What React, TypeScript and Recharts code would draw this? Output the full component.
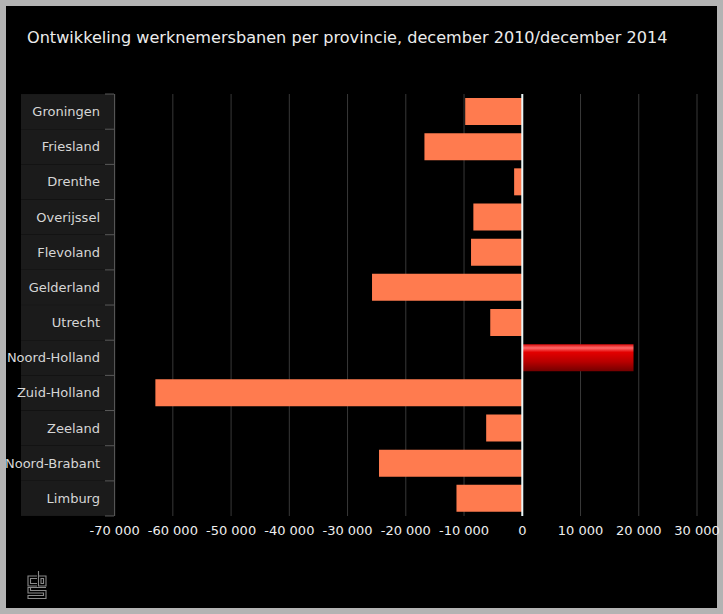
import React from 'react';
import { BarChart, Bar, Cell, XAxis, YAxis, CartesianGrid, ReferenceLine } from 'recharts';

const provinces = [
  'Groningen',
  'Friesland',
  'Drenthe',
  'Overijssel',
  'Flevoland',
  'Gelderland',
  'Utrecht',
  'Noord-Holland',
  'Zuid-Holland',
  'Zeeland',
  'Noord-Brabant',
  'Limburg',
];

const banenChange = [-9800, -16800, -1400, -8400, -8800, -25800, -5500, 19100, -63000, -6200, -24600, -11300];

const xTicks = [-70000, -60000, -50000, -40000, -30000, -20000, -10000, 0, 10000, 20000, 30000];

const highlighted = 'Noord-Holland';

const chartData = provinces.map((name, i) => ({ name, value: banenChange[i] }));

const W = 723;
const H = 614;
const PLOT_TOP = 94;
const PLOT_BOTTOM = 515;
const BAND = (PLOT_BOTTOM - PLOT_TOP) / provinces.length;
const FONT = '"DejaVu Sans", Verdana, sans-serif';

// thousands with a space, like the CBS charts do
const fmt = (v: number) => {
  const s = Math.abs(v).toString().replace(/\B(?=(\d{3})+(?!\d))/g, ' ');
  return v < 0 ? '-' + s : s;
};

const CategoryTick = (props: any) => {
  const { y, payload, index } = props;
  const top = y - BAND / 2;
  return (
    <g>
      <rect x={21} y={top} width={93} height={BAND} fill="#1b1b1b" />
      <line x1={105} x2={114} y1={top} y2={top} stroke="#5a5a5a" />
      {index === provinces.length - 1 && (
        <line x1={105} x2={114} y1={top + BAND} y2={top + BAND} stroke="#5a5a5a" />
      )}
      <text
        x={100}
        y={y}
        dy="0.35em"
        textAnchor="end"
        fill="#d6d6d6"
        fontSize={13}
        fontWeight="normal"
        fontFamily={FONT}
      >
        {payload.value}
      </text>
    </g>
  );
};

// rough outline of the cbs mark in the corner
const CbsLogo = () => (
  <svg width={22} height={32} style={{ position: 'absolute', left: 20, top: 563 }}>
    <g fill="none" stroke="#8a8a8a" strokeWidth={1.1}>
      <path d="M11 7 H2 V17 H11" />
      <path d="M11 9.5 H4.5 V14.5 H11" />
      <path d="M12.5 2 V17 H20 V7 H12.5" />
      <path d="M15 9.5 H17.5 V14.5 H15 Z" />
      <path d="M20 18.5 H2 V24 H17.5 V26.5 H2 V29.5 H20 V21.5 H4.5 V19" />
    </g>
  </svg>
);

export default function App() {
  return (
    <div
      style={{
        position: 'fixed',
        left: 0,
        top: 0,
        width: W,
        height: H,
        boxSizing: 'border-box',
        border: '6px solid #b3b3b3',
        background: '#000',
        fontFamily: FONT,
      }}
    >
      <div
        style={{
          position: 'absolute',
          left: 21,
          top: 22,
          color: '#ececec',
          fontSize: 16.1,
          whiteSpace: 'nowrap',
        }}
      >
        Ontwikkeling werknemersbanen per provincie, december 2010/december 2014
      </div>
      <div style={{ position: 'absolute', left: -6, top: -6 }}>
        <BarChart
          width={W}
          height={H}
          layout="vertical"
          data={chartData}
          margin={{ top: PLOT_TOP, right: 26, bottom: 68, left: 0 }}
        >
          <defs>
            <linearGradient id="nhGrad" x1="0" y1="0" x2="0" y2="1">
              <stop offset="0%" stopColor="#d80a0a" />
              <stop offset="14%" stopColor="#ff6a6a" />
              <stop offset="30%" stopColor="#e30000" />
              <stop offset="65%" stopColor="#b80000" />
              <stop offset="100%" stopColor="#740000" />
            </linearGradient>
          </defs>
          <CartesianGrid horizontal={false} stroke="#383838" />
          <XAxis
            type="number"
            domain={[-70000, 30000]}
            ticks={xTicks}
            tickFormatter={fmt}
            axisLine={false}
            tickLine={false}
            tickMargin={4}
            height={30}
            tick={{ fill: '#eeeeee', fontSize: 13, fontFamily: FONT }}
            interval={0}
          />
          <YAxis
            type="category"
            dataKey="name"
            width={114.6}
            axisLine={{ stroke: '#5a5a5a' }}
            tickLine={false}
            tick={<CategoryTick />}
            interval={0}
          />
          <Bar dataKey="value" barSize={27} isAnimationActive={false}>
            {chartData.map((d) => (
              <Cell
                key={d.name}
                fill={d.name === highlighted ? 'url(#nhGrad)' : '#ff7b4f'}
              />
            ))}
          </Bar>
          <ReferenceLine x={0} stroke="#eaf6f6" strokeWidth={2} />
        </BarChart>
      </div>
      <CbsLogo />
    </div>
  );
}
